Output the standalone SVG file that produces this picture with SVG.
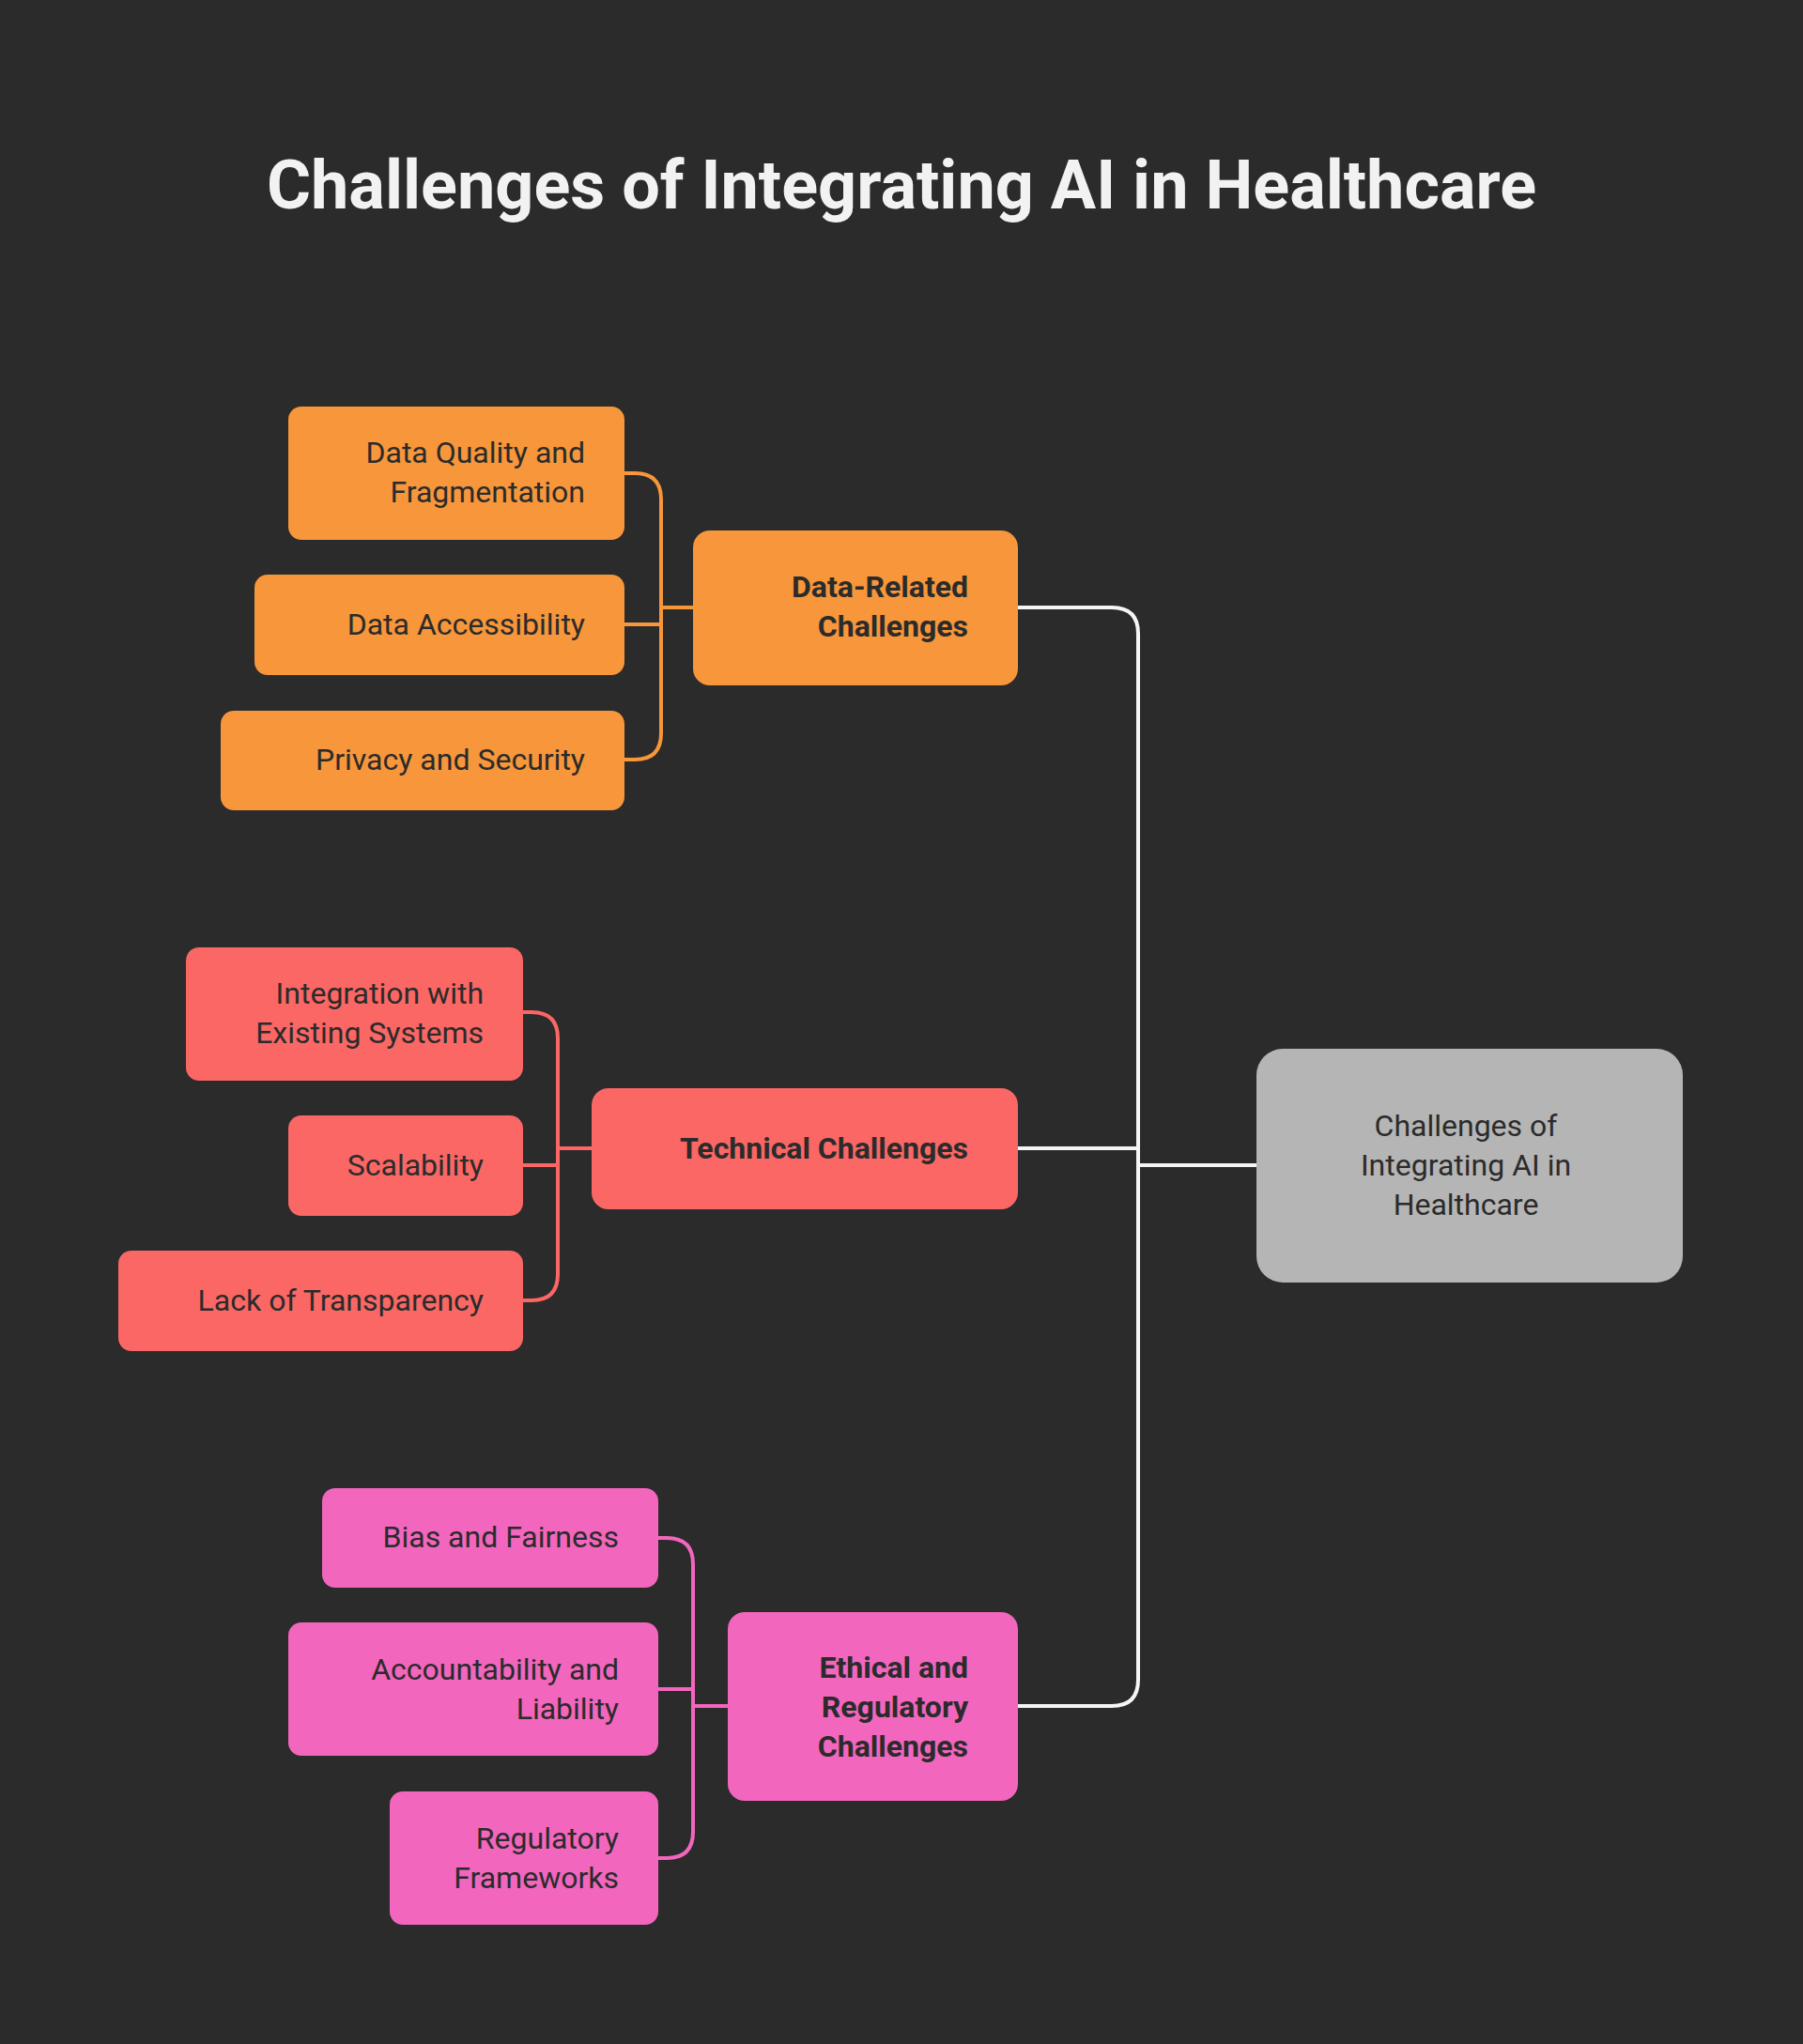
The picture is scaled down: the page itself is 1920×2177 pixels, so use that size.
<svg xmlns="http://www.w3.org/2000/svg" width="1920" height="2177" viewBox="0 0 1920 2177">
<style>
text{font-family:Roboto,"Liberation Sans",sans-serif;font-size:32px;fill:#2b2b2b}
.r{text-anchor:end}.b{font-weight:bold}
.o{fill:#F7963A}.t{fill:#FA6764}.p{fill:#F266BD}
.c{fill:none;stroke-width:4}
</style>
<rect width="1920" height="2177" fill="#2B2B2B"/>
<text x="960" y="222" text-anchor="middle" style="font-size:72px;font-weight:bold;fill:#F2F2F2">Challenges of Integrating AI in Healthcare</text>
<g id="connectors">
<path class="c" stroke="#F7963A" d="M665 504H676Q704 504 704 532V781Q704 809 676 809H665M665 665H704M704 647H738"/>
<path class="c" stroke="#FA6764" d="M557 1078H566Q594 1078 594 1106V1357Q594 1385 566 1385H557M557 1241H594M594 1223H630"/>
<path class="c" stroke="#F266BD" d="M701 1638H710Q738 1638 738 1666V1951Q738 1979 710 1979H701M701 1799H738M738 1817H775"/>
<path class="c" stroke="#F5F5F5" d="M1066 647H1184Q1212 647 1212 675V1789Q1212 1817 1184 1817H1066M1066 1223H1212M1212 1241H1357"/>
</g>
<g id="data-quality"><rect class="o" x="307" y="433" width="358" height="142" rx="14"/><text class="r" x="623" y="493">Data Quality and</text><text class="r" x="623" y="535">Fragmentation</text></g>
<g id="data-access"><rect class="o" x="271" y="612" width="394" height="107" rx="14"/><text class="r" x="623" y="676">Data Accessibility</text></g>
<g id="privacy"><rect class="o" x="235" y="757" width="430" height="106" rx="14"/><text class="r" x="623" y="820">Privacy and Security</text></g>
<g id="data-related"><rect class="o" x="738" y="565" width="346" height="165" rx="18"/><text class="r b" x="1031" y="636">Data-Related</text><text class="r b" x="1031" y="678">Challenges</text></g>
<g id="integration"><rect class="t" x="198" y="1009" width="359" height="142" rx="14"/><text class="r" x="515" y="1069">Integration with</text><text class="r" x="515" y="1111">Existing Systems</text></g>
<g id="scalability"><rect class="t" x="307" y="1188" width="250" height="107" rx="14"/><text class="r" x="515" y="1252">Scalability</text></g>
<g id="transparency"><rect class="t" x="126" y="1332" width="431" height="107" rx="14"/><text class="r" x="515" y="1396">Lack of Transparency</text></g>
<g id="technical"><rect class="t" x="630" y="1159" width="454" height="129" rx="18"/><text class="r b" x="1031" y="1234">Technical Challenges</text></g>
<g id="bias"><rect class="p" x="343" y="1585" width="358" height="106" rx="14"/><text class="r" x="659" y="1648">Bias and Fairness</text></g>
<g id="accountability"><rect class="p" x="307" y="1728" width="394" height="142" rx="14"/><text class="r" x="659" y="1789">Accountability and</text><text class="r" x="659" y="1831">Liability</text></g>
<g id="regulatory"><rect class="p" x="415" y="1908" width="286" height="142" rx="14"/><text class="r" x="659" y="1969">Regulatory</text><text class="r" x="659" y="2011">Frameworks</text></g>
<g id="ethical"><rect class="p" x="775" y="1717" width="309" height="201" rx="18"/><text class="r b" x="1031" y="1787">Ethical and</text><text class="r b" x="1031" y="1829">Regulatory</text><text class="r b" x="1031" y="1871">Challenges</text></g>
<g id="center"><rect x="1338" y="1117" width="454" height="249" rx="28" fill="#B5B5B5"/><text x="1561" y="1210" text-anchor="middle">Challenges of</text><text x="1561" y="1252" text-anchor="middle">Integrating AI in</text><text x="1561" y="1294" text-anchor="middle">Healthcare</text></g>
</svg>
